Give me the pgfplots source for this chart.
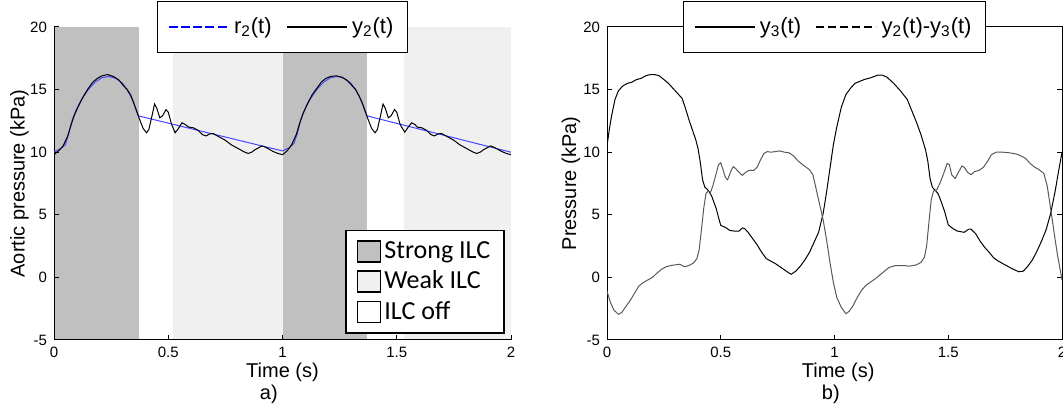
\documentclass[border=0pt]{standalone}
\usepackage{fontspec}
\setmainfont{Liberation Sans}
\newfontfamily\carlito{Carlito}
\usepackage{pgfplots}
\pgfplotsset{compat=1.18}
\definecolor{ilcStrong}{HTML}{C0C0C0}
\definecolor{ilcWeak}{HTML}{F0F0F0}
\definecolor{refBlue}{HTML}{4646FF}

\pgfplotsset{
  panel/.style={scale only axis, height=156.5pt, xmin=0, xmax=2, ymin=-5, ymax=20,
    xtick={0,0.5,...,2}, ytick={-5,0,...,20}, tick align=inside, major tick length=2.5pt,
    tick label style={font=\fontsize{7.5}{9}\selectfont},
    /pgf/number format/assume math mode=true,
    axis line style={line width=0.5pt}, tick style={line width=0.5pt, black},
    label style={font=\fontsize{10}{12}\selectfont},
    every axis x label/.style={at={(axis description cs:0.5,-0.102)}, anchor=center},
    every axis y label/.style={at={(axis description cs:-0.0755,0.5)}, rotate=90, anchor=center},
    every axis title shift=0pt,
    title style={font=\fontsize{10}{12}\selectfont, anchor=center},
    legend cell align=left},
  toplegend/.style={legend columns=-1,
    legend image code/.code={\draw[##1] (0pt,0pt) -- (30pt,0pt);},
    legend style={at={(0.5,1)}, anchor=center, draw=black, line width=0.6pt, fill=white,
      font=\fontsize{11}{13}\selectfont, inner xsep=5pt, inner ysep=6pt,
      /tikz/every even column/.append style={column sep=5pt}}},
}

\begin{document}
\begin{tikzpicture}
\useasboundingbox (0,0) rectangle (531.5pt,208pt);

% (a) ILC phases behind the curves, with their own legend
\begin{axis}[panel, width=228.5pt, at={(27pt,38pt)}, anchor=south west, hide axis,
  legend image code/.code={\draw[#1, draw=black, line width=0.8pt] (0pt,-5.25pt) rectangle (11.5pt,5.25pt);},
  legend style={at={(0.987,0.019)}, anchor=south east, draw=black, line width=0.8pt, fill=white,
    font=\carlito\fontsize{13}{15.5}\selectfont, inner xsep=5.5pt, inner ysep=3pt,
    nodes={inner ysep=2.4pt, inner xsep=1.5pt}}]
\addplot[draw=none, fill=ilcStrong, forget plot] coordinates {(0,-5) (0,20) (0.372,20) (0.372,-5)};
\addplot[draw=none, fill=ilcStrong, forget plot] coordinates {(1.003,-5) (1.003,20) (1.368,20) (1.368,-5)};
\addplot[draw=none, fill=ilcWeak, forget plot] coordinates {(0.522,-5) (0.522,20) (1.003,20) (1.003,-5)};
\addplot[draw=none, fill=ilcWeak, forget plot] coordinates {(1.532,-5) (1.532,20) (2,20) (2,-5)};
\addlegendimage{fill=ilcStrong}
\addlegendentry{Strong ILC}
\addlegendimage{fill=ilcWeak}
\addlegendentry{Weak ILC}
\addlegendimage{fill=white}
\addlegendentry{ILC off}
\end{axis}

% (a) reference and measured aortic pressure
\begin{axis}[panel, toplegend, width=228.5pt, at={(27pt,38pt)}, anchor=south west,
  axis x line*=bottom, axis y line*=left,
  xlabel={Time (s)}, ylabel={Aortic pressure (kPa)},
  title={a)}, title style={at={(axis description cs:0.47,-0.1725)}}]
\addplot[refBlue, line width=0.5pt, forget plot] coordinates {
(0,10.0) (0.03,10.3) (0.05,10.6) (0.065,11.5) (0.08,12.6) (0.10,13.5) (0.12,14.2)
(0.15,15.0) (0.18,15.6) (0.21,15.95) (0.24,16.05) (0.27,15.9) (0.30,15.5) (0.32,15.0)
(0.34,14.3) (0.355,13.6) (0.37,12.9) (1.0,10.1)
(1.03,10.35) (1.05,10.7) (1.065,11.5) (1.08,12.6) (1.10,13.5) (1.12,14.2)
(1.15,15.0) (1.18,15.6) (1.21,15.95) (1.24,16.05) (1.27,15.9) (1.30,15.5) (1.32,15.0)
(1.34,14.3) (1.355,13.6) (1.37,12.9) (2.0,10.0)};
\addplot[black, line width=0.5pt, forget plot] coordinates {
(0,9.8) (0.02,10.1) (0.04,10.5) (0.06,11.3) (0.075,12.2) (0.09,13.0) (0.11,13.8)
(0.13,14.5) (0.15,15.1) (0.17,15.6) (0.19,15.9) (0.21,16.1) (0.235,16.2) (0.26,16.05)
(0.285,15.75) (0.30,15.4) (0.32,15.0) (0.335,14.6) (0.35,13.9) (0.365,13.1) (0.375,12.6)
(0.39,11.9) (0.405,11.55) (0.415,11.8) (0.43,13.0) (0.44,13.85) (0.45,13.5) (0.463,12.75)
(0.475,12.9) (0.49,13.4) (0.50,13.2) (0.515,12.2) (0.53,11.55) (0.545,11.9) (0.56,12.35)
(0.575,12.2) (0.59,12.0) (0.61,11.95) (0.63,11.75) (0.65,11.4) (0.665,11.3) (0.68,11.45)
(0.695,11.5) (0.71,11.35) (0.73,11.15) (0.75,10.95) (0.775,10.6) (0.80,10.35) (0.82,10.15)
(0.835,10.0) (0.85,9.9) (0.865,10.0) (0.88,10.2) (0.895,10.35) (0.91,10.5) (0.925,10.4)
(0.94,10.25) (0.96,10.05) (0.98,9.9) (1.0,9.8)
(1.02,10.1) (1.04,10.6) (1.06,11.4) (1.075,12.3) (1.09,13.1) (1.11,13.9)
(1.13,14.6) (1.15,15.1) (1.17,15.6) (1.19,15.9) (1.21,16.05) (1.235,16.1) (1.26,16.0)
(1.285,15.7) (1.30,15.4) (1.32,15.0) (1.335,14.5) (1.35,13.9) (1.365,13.1) (1.375,12.6)
(1.39,11.9) (1.405,11.55) (1.415,11.8) (1.43,13.0) (1.44,13.85) (1.45,13.5) (1.463,12.75)
(1.475,12.9) (1.49,13.4) (1.50,13.2) (1.515,12.2) (1.535,11.6) (1.55,12.0) (1.565,12.35)
(1.58,12.2) (1.59,12.0) (1.61,11.95) (1.63,11.75) (1.65,11.4) (1.665,11.3) (1.68,11.45)
(1.695,11.5) (1.71,11.35) (1.73,11.15) (1.75,10.95) (1.775,10.6) (1.80,10.35) (1.82,10.15)
(1.835,10.0) (1.85,9.9) (1.865,10.0) (1.88,10.2) (1.895,10.35) (1.91,10.5) (1.925,10.4)
(1.94,10.25) (1.96,10.05) (1.98,9.9) (2.0,9.8)};
\addlegendimage{blue, line width=1.2pt, dash pattern=on 4.5pt off 1.6pt}
\addlegendentry{r\textsubscript{2}(t)}
\addlegendimage{black, line width=1.2pt}
\addlegendentry{y\textsubscript{2}(t)}
\end{axis}

% (b) y3 and the difference y2-y3
\begin{axis}[panel, toplegend, width=227.5pt, at={(303.5pt,38pt)}, anchor=south west,
  tick pos=both, xlabel={Time (s)}, ylabel={Pressure (kPa)},
  xlabel style={at={(axis description cs:0.508,-0.102)}},
  ylabel style={at={(axis description cs:-0.079,0.5)}},
  title={b)}, title style={at={(axis description cs:0.492,-0.1725)}}]
\addplot[black, line width=0.5pt, forget plot] coordinates {
(0,10.5) (0.01,11.8) (0.02,12.9) (0.035,14.2) (0.05,14.9) (0.07,15.3) (0.09,15.5)
(0.11,15.6) (0.13,15.8) (0.15,15.9) (0.17,16.1) (0.19,16.2) (0.21,16.2) (0.23,16.1)
(0.25,15.8) (0.27,15.5) (0.29,15.1) (0.31,14.7) (0.33,14.3) (0.345,13.5) (0.36,12.6)
(0.375,11.8) (0.39,11.0) (0.40,10.3) (0.41,9.2) (0.42,7.8) (0.43,7.2) (0.44,7.05)
(0.45,6.8) (0.46,6.5) (0.47,6.0) (0.48,5.5) (0.49,4.8) (0.50,4.15) (0.52,4.0)
(0.54,3.75) (0.56,3.7) (0.58,3.7) (0.595,3.95) (0.605,3.9) (0.62,3.6) (0.64,3.1)
(0.66,2.6) (0.68,2.0) (0.70,1.5) (0.72,1.3) (0.74,1.1) (0.76,0.85) (0.78,0.6)
(0.80,0.35) (0.81,0.25) (0.83,0.5) (0.85,0.9) (0.87,1.4) (0.89,2.0) (0.91,2.8)
(0.93,3.6) (0.95,5.1) (0.965,6.8) (0.98,8.7) (0.995,10.6) (1.01,12.0) (1.03,13.6)
(1.05,14.6) (1.07,15.1) (1.09,15.5) (1.11,15.65) (1.13,15.8) (1.16,15.95) (1.19,16.15)
(1.21,16.15) (1.23,16.0) (1.26,15.5) (1.29,14.9) (1.32,14.2) (1.34,13.3) (1.36,12.4)
(1.38,11.4) (1.40,10.2) (1.41,9.3) (1.42,7.9) (1.43,7.2) (1.44,7.0) (1.455,6.7)
(1.47,6.0) (1.485,5.2) (1.50,4.2) (1.52,3.9) (1.54,3.7) (1.57,3.6) (1.59,3.85)
(1.60,3.85) (1.62,3.5) (1.64,2.9) (1.66,2.4) (1.68,2.0) (1.70,1.55) (1.72,1.3)
(1.75,1.0) (1.78,0.7) (1.81,0.45) (1.83,0.5) (1.85,0.9) (1.87,1.4) (1.89,2.1)
(1.91,2.9) (1.93,3.8) (1.95,5.1) (1.97,6.9) (1.985,8.5) (2.0,10.0)};
\addplot[black!65, line width=0.5pt, forget plot] coordinates {
(0,-1.1) (0.015,-2.0) (0.03,-2.6) (0.05,-2.95) (0.065,-2.8) (0.08,-2.4) (0.10,-1.9)
(0.12,-1.3) (0.14,-0.7) (0.16,-0.4) (0.18,-0.2) (0.20,0.0) (0.22,0.35) (0.24,0.65)
(0.26,0.85) (0.28,0.95) (0.30,1.0) (0.32,1.05) (0.34,0.85) (0.36,0.95) (0.38,1.15)
(0.395,1.5) (0.405,2.2) (0.415,3.8) (0.425,5.5) (0.435,6.7) (0.445,6.9) (0.455,6.8)
(0.465,7.3) (0.48,8.3) (0.49,9.0) (0.50,9.15) (0.51,8.6) (0.52,8.0) (0.53,7.8)
(0.545,8.5) (0.555,8.85) (0.565,8.7) (0.58,8.4) (0.595,8.15) (0.61,8.4) (0.625,8.55)
(0.645,8.55) (0.66,8.8) (0.675,9.4) (0.69,9.9) (0.705,10.05) (0.72,10.0) (0.74,10.05)
(0.76,10.1) (0.78,10.0) (0.80,9.95) (0.82,9.7) (0.84,9.3) (0.86,9.0) (0.875,8.8)
(0.89,8.6) (0.905,8.2) (0.92,7.0) (0.935,5.8) (0.95,4.6) (0.965,3.0) (0.98,1.2)
(0.995,-0.4) (1.01,-1.6) (1.03,-2.4) (1.05,-2.9) (1.065,-2.7) (1.08,-2.3) (1.10,-1.6)
(1.12,-1.0) (1.14,-0.6) (1.16,-0.35) (1.18,-0.1) (1.20,0.2) (1.22,0.5) (1.24,0.8)
(1.27,0.95) (1.30,0.95) (1.33,0.9) (1.36,1.0) (1.38,1.2) (1.395,1.6) (1.405,2.5)
(1.415,4.4) (1.425,6.2) (1.435,6.9) (1.45,7.0) (1.465,7.6) (1.48,8.3) (1.495,9.1)
(1.505,9.0) (1.515,8.2) (1.53,7.9) (1.545,8.4) (1.56,8.9) (1.57,8.8) (1.585,8.4)
(1.60,8.2) (1.615,8.45) (1.635,8.55) (1.655,8.8) (1.67,9.2) (1.69,9.8) (1.71,10.0)
(1.74,10.0) (1.77,9.95) (1.80,9.85) (1.82,9.7) (1.84,9.5) (1.86,9.1) (1.88,8.8)
(1.90,8.6) (1.92,8.3) (1.935,7.3) (1.95,5.5) (1.965,3.6) (1.98,1.8) (2.0,-0.2)};
\addlegendimage{black, line width=1.2pt}
\addlegendentry{y\textsubscript{3}(t)}
\addlegendimage{black, line width=1.2pt, dash pattern=on 4pt off 2pt}
\addlegendentry{y\textsubscript{2}(t)-y\textsubscript{3}(t)}
\end{axis}
\end{tikzpicture}
\end{document}
